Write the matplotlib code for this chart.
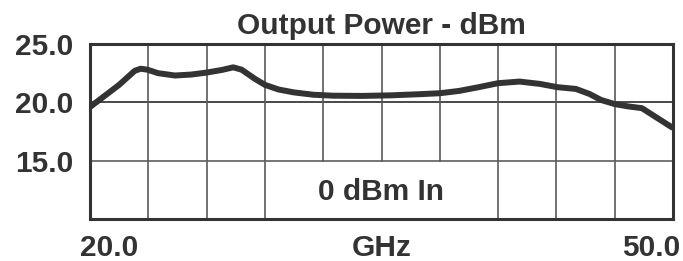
import matplotlib
matplotlib.use("Agg")
import matplotlib.pyplot as plt
from matplotlib.transforms import blended_transform_factory

freq_ghz = [20.0, 21.5, 22.3, 22.6, 22.95, 23.5, 24.37, 25.2, 26.0, 26.8, 27.37,
            27.8, 28.5, 29.0, 29.7, 30.5, 31.5, 32.5, 34.0, 35.5, 37.0, 38.0,
            39.0, 40.0, 41.0, 42.1, 43.15, 44.05, 45.0, 45.7, 46.3, 47.0, 47.7,
            48.4, 49.2, 50.0]
power_dbm = [19.6, 21.5, 22.7, 22.88, 22.8, 22.5, 22.3, 22.38, 22.55, 22.78, 23.0,
             22.8, 22.0, 21.5, 21.1, 20.85, 20.65, 20.57, 20.55, 20.6, 20.7, 20.78,
             20.98, 21.3, 21.64, 21.78, 21.58, 21.3, 21.15, 20.72, 20.2, 19.85, 19.65,
             19.5, 18.65, 17.8]
ytick_vals = [15.0, 20.0, 25.0]
ytick_labels = ["15.0", "20.0", "25.0"]
xgrid_vals = [23, 26, 29, 32, 35, 38, 41, 44, 47]
xgrid_short = [32, 35, 38]
xend_labels = ["20.0", "50.0"]
title = "Output Power - dBm"
xlabel = "GHz"
note = "0 dBm In"

plt.rcParams['font.family'] = ['Liberation Sans', 'DejaVu Sans']
txt = '#333333'
fs = 21.5
fig = plt.figure(figsize=(6.83, 2.61), dpi=100)
ax = fig.add_axes([90/683, 42/261, 583/683, 175/261])
ax.set_xlim(20, 50)
ax.set_ylim(10, 25)

gc = '#5a5a5a'
ax.axhline(20.0, color='#2a2a2a', lw=1.2, zorder=1)
ax.axhline(15.0, color='#6a6a6a', lw=1.3, zorder=1)
for xv in xgrid_vals:
    ymin = (15 - 10) / 15 if xv in xgrid_short else 0
    ax.axvline(xv, ymin=ymin, ymax=1, color=gc, lw=1.2, zorder=1)

ax.plot(freq_ghz, power_dbm, color='#333333', lw=4.3, solid_joinstyle='round',
        solid_capstyle='butt', zorder=3)

for s in ax.spines.values():
    s.set_linewidth(2.2)
    s.set_color('#333333')

ax.set_yticks(ytick_vals)
ax.set_yticklabels(ytick_labels, fontsize=fs, fontweight='bold', color=txt)
ax.set_xticks([])
ax.tick_params(length=0)
ax.tick_params(axis='y', pad=12)

tr = blended_transform_factory(ax.transData, ax.transAxes)
ax.annotate(xend_labels[0], xy=(20, 0), xycoords=tr, xytext=(-7, -21),
            textcoords='offset points', ha='left', va='center',
            fontsize=fs, fontweight='bold', color=txt, annotation_clip=False)
ax.annotate(xend_labels[1], xy=(50, 0), xycoords=tr, xytext=(5, -21),
            textcoords='offset points', ha='right', va='center',
            fontsize=fs, fontweight='bold', color=txt, annotation_clip=False)
ax.annotate(xlabel, xy=(35, 0), xycoords=tr, xytext=(0, -21),
            textcoords='offset points', ha='center', va='center',
            fontsize=fs, fontweight='bold', color=txt, annotation_clip=False)
ax.set_title(title, fontsize=fs, fontweight='bold', color=txt, pad=7)
ax.text(35, 12.35, note, ha='center', va='center', fontsize=fs, fontweight='bold', color=txt)

fig.savefig('out.png', dpi=100)
